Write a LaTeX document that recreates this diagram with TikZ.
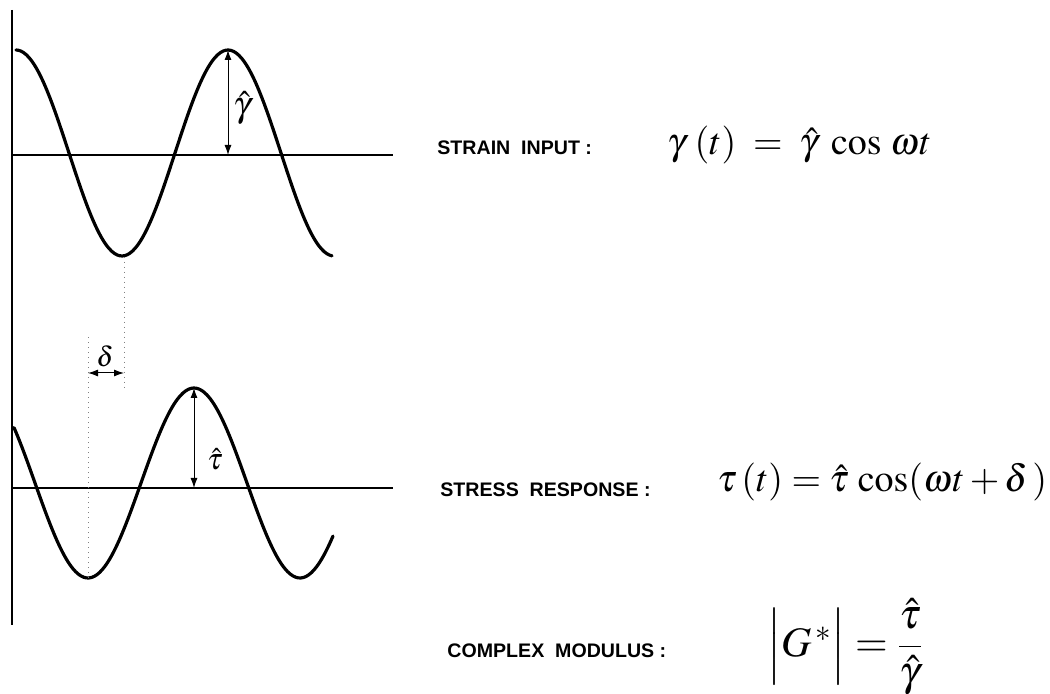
\documentclass[tikz,border=0pt]{standalone}
\usepackage{mathptmx}
\usepackage[no-math]{fontspec}
\setsansfont{Liberation Sans}
\usetikzlibrary{arrows.meta}
\tikzset{wave/.style={line width=1.6pt,line cap=round,line join=round},
  axis/.style={line width=0.7pt},
  amp/.style={{Latex[length=5pt,width=3.5pt]}-{Latex[length=5pt,width=3.5pt]},line width=0.5pt},
  guide/.style={dotted,line width=0.5pt,gray},
  tag/.style={anchor=base west,inner sep=0pt,font=\fontsize{9.8}{12}\sffamily\bfseries},
  eq/.style={anchor=base west,inner sep=0pt}}

\begin{document}
\begin{tikzpicture}[x=0.5pt,y=-0.5pt,font=\fontsize{15}{18}\selectfont]
\useasboundingbox (0,0) rectangle (1050,694);
\draw[axis] (12,10)--(12,625);
\foreach \y in {155,488}{\draw[axis] (12,\y)--(393,\y);}
\draw[wave] plot[domain=16:332,samples=120,smooth] (\x,{153-103*cos((\x-16)/106*180)});
\draw[wave] plot[domain=14:333,samples=120,smooth] (\x,{483-95*cos((\x-194)/106*180)});
\coordinate (gpeak) at (228,50);
\coordinate (gzero) at (228,155);
\coordinate (gtrough) at (124,257);
\coordinate (gmark) at (124,390);
\coordinate (tpeak) at (194,388);
\coordinate (tzero) at (194,488);
\coordinate (ttrough) at (88,578);
\coordinate (tmark) at (88,337);
\coordinate (dleft) at (88,373);
\coordinate (dright) at (124,373);
\draw[guide] (gtrough)--(gmark);
\draw[guide] (ttrough)--(tmark);
\draw[amp] (gpeak)--(gzero);
\draw[amp] (tpeak)--(tzero);
\draw[amp] (dleft)--(dright);
\node[font=\fontsize{18}{21}\selectfont] (gamp) at (242,108) {$\hat{\gamma}$};
\node (tamp) at (215,459) {$\hat{\tau}$};
\node[font=\fontsize{14}{17}\selectfont] (delta) at (105,356) {$\delta$};
\node[tag] (strain) at (437,155) {STRAIN\ \ INPUT :};
\node[tag] (stress) at (440,497) {STRESS\ \ RESPONSE :};
\node[tag] (modulus) at (447,658) {COMPLEX\ \ MODULUS :};
\node[eq,font=\fontsize{19}{22}\selectfont] (straineq) at (667,155) {$\gamma\;(t)\;=\;\hat{\gamma}\;\cos\,\omega t$};
\node[eq,font=\fontsize{19}{22}\selectfont] (stresseq) at (717,492) {$\tau\,(t) = \hat{\tau}\,\cos(\omega t+\delta\,)$};
\node[eq,font=\fontsize{21}{25}\selectfont] (moduluseq) at (767,657) {$\Bigl|G^{\,*}\Bigr| = {\displaystyle\frac{\hat{\tau}}{\hat{\gamma}}}$};
\end{tikzpicture}
\end{document}
